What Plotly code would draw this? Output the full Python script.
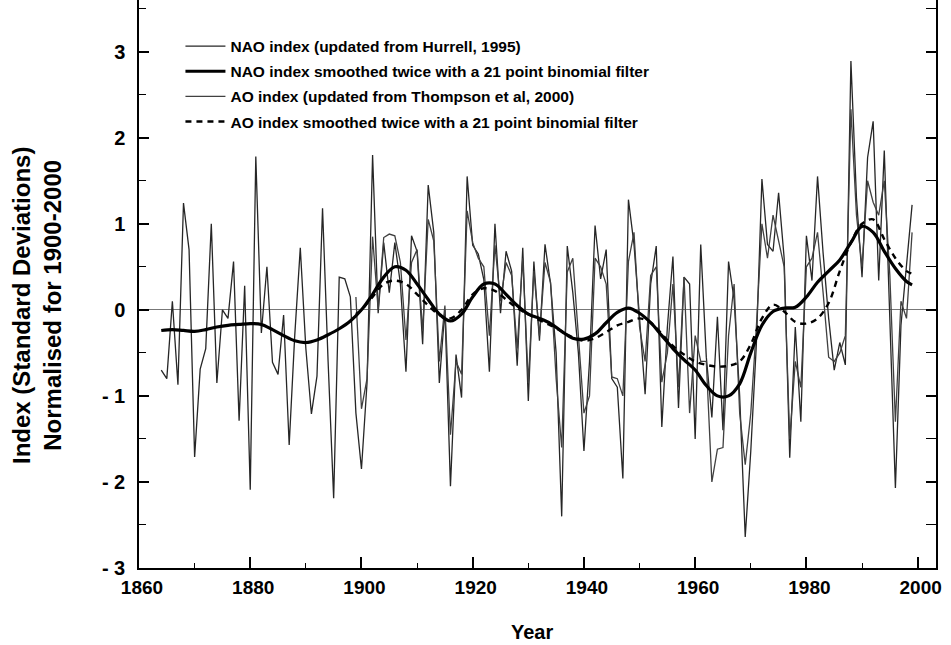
import plotly.graph_objects as go

# ---------------- data ----------------
nao_years = list(range(1864, 2000))
nao_values = [
    -0.70, -0.80, 0.10, -0.87, 1.24, 0.70, -1.71, -0.69, -0.45, 1.00,
    -0.85, 0.00, -0.10, 0.56, -1.29, 0.28, -2.09, 1.78, -0.27, 0.50,
    -0.61, -0.75, -0.06, -1.57, -0.30, 0.72, -0.45, -1.21, -0.77, 1.18,
    -0.60, -2.19, 0.38, 0.36, 0.15, -1.20, -1.85, -0.85, 1.80, -0.04,
    0.78, 0.20, 0.78, 0.30, -0.72, 0.86, 0.68, -0.40, 1.45, 0.90,
    -0.85, 0.00, -2.05, -0.52, -1.02, 1.55, 0.75, 0.65, 0.35, -0.72,
    1.00, -0.04, 0.68, 0.45, -0.65, 0.72, -1.06, 0.56, -0.36, 0.76,
    0.30, -0.50, -2.40, 0.74, 0.20, -0.50, -1.64, -0.60, 0.98, 0.36,
    0.70, -0.80, -0.90, -1.96, 1.28, 0.76, -0.10, -0.98, 0.30, 0.74,
    -1.36, -0.20, 0.62, -1.14, 0.38, 0.30, -1.50, 0.76, -0.55, -1.25,
    -0.08, -1.40, 0.56, 0.12, -1.00, -2.64, -1.64, -0.40, 1.52, 0.76,
    0.68, 1.36, 0.60, -1.72, -0.20, -1.30, 0.86, 0.34, 1.55, 0.66,
    -0.10, -0.70, -0.38, -0.64, 2.89, 1.30, 0.38, 1.77, 2.19, 0.34,
    1.85, -0.10, -2.07, -0.18, 0.50, 1.22,
]

ao_years = list(range(1899, 2000))
ao_values = [
    0.15, -1.15, -0.80, 0.85, 0.00, 0.84, 0.88, 0.86, 0.55, -0.35,
    0.55, 0.70, -0.25, 1.05, 0.80, -0.60, 0.05, -1.45, -0.60, -0.75,
    1.15, 0.78, 0.60, 0.50, -0.30, 0.75, 0.10, 0.55, 0.40, -0.45,
    0.60, -0.85, 0.45, -0.30, 0.55, 0.32, -0.80, -1.60, 0.44, 0.60,
    -0.30, -1.20, -1.00, 0.60, 0.50, 0.30, -0.78, -0.80, -1.00, 0.56,
    0.90, -0.20, -0.60, 0.40, 0.50, -0.84, -0.50, 0.30, -0.90, 0.38,
    -1.20, -0.30, -0.60, -0.60, -2.00, -1.62, -1.60, -0.30, 0.30, -1.20,
    -1.80, -1.20, -0.20, 1.00, 0.60, 1.10, 0.80, 0.50, -1.50, -0.60,
    -0.90, 0.50, 0.60, 0.90, 0.20, -0.55, -0.60, -0.50, -0.30, 2.33,
    1.10, 0.50, 1.50, 1.25, 1.10, 1.50, 0.40, -1.30, 0.10, -0.10,
    0.90,
]

nao_smooth_years = [1864, 1866, 1868, 1870, 1872, 1874, 1876, 1878, 1880, 1882,
                    1884, 1886, 1888, 1890, 1892, 1894, 1896, 1898, 1900, 1902,
                    1904, 1906, 1908, 1910, 1912, 1914, 1916, 1918, 1920, 1922,
                    1924, 1926, 1928, 1930, 1932, 1934, 1936, 1938, 1940, 1942,
                    1944, 1946, 1948, 1950, 1952, 1954, 1956, 1958, 1960, 1962,
                    1964, 1966, 1968, 1970, 1972, 1974, 1976, 1978, 1980, 1982,
                    1984, 1986, 1988, 1990, 1992, 1994, 1996, 1998, 1999]
nao_smooth_values = [-0.24, -0.23, -0.24, -0.25, -0.23, -0.20, -0.18, -0.17, -0.16, -0.17,
                     -0.23, -0.30, -0.36, -0.38, -0.35, -0.29, -0.22, -0.13, 0.00, 0.18,
                     0.38, 0.50, 0.46, 0.30, 0.12, -0.05, -0.13, -0.05, 0.15, 0.30,
                     0.30, 0.18, 0.05, -0.05, -0.10, -0.16, -0.25, -0.33, -0.34, -0.28,
                     -0.15, -0.03, 0.02, -0.04, -0.15, -0.30, -0.45, -0.58, -0.70, -0.88,
                     -1.00, -1.00, -0.86, -0.50, -0.18, -0.02, 0.02, 0.03, 0.15, 0.32,
                     0.45, 0.58, 0.78, 0.97, 0.90, 0.68, 0.48, 0.33, 0.29]

ao_smooth_years = [1899, 1900, 1902, 1904, 1906, 1908, 1910, 1912, 1914, 1916,
                   1918, 1920, 1922, 1924, 1926, 1928, 1930, 1932, 1934, 1936,
                   1938, 1940, 1942, 1944, 1946, 1948, 1950, 1952, 1954, 1956,
                   1958, 1960, 1962, 1964, 1966, 1968, 1970, 1972, 1974, 1976,
                   1978, 1980, 1982, 1984, 1986, 1988, 1990, 1992, 1994, 1996,
                   1998, 1999]
ao_smooth_values = [-0.05, 0.00, 0.15, 0.30, 0.34, 0.30, 0.18, 0.05, -0.06, -0.10,
                    0.00, 0.18, 0.25, 0.22, 0.12, 0.02, -0.05, -0.12, -0.18, -0.25,
                    -0.32, -0.36, -0.33, -0.26, -0.18, -0.14, -0.10, -0.15, -0.28, -0.42,
                    -0.52, -0.60, -0.64, -0.66, -0.65, -0.60, -0.40, -0.10, 0.06, -0.02,
                    -0.14, -0.16, -0.10, 0.08, 0.45, 0.78, 1.00, 1.05, 0.82, 0.60,
                    0.45, 0.42]

y_tickvals = [-3, -2, -1, 0, 1, 2, 3]
y_ticktext = ["- 3", "- 2", "- 1", "0", "1", "2", "3"]
x_tickvals = [1860, 1880, 1900, 1920, 1940, 1960, 1980, 2000]

legend_labels = [
    "NAO index (updated from Hurrell, 1995)",
    "NAO index smoothed twice with a 21 point binomial filter",
    "AO index (updated from Thompson et al, 2000)",
    "AO index smoothed twice with a 21 point binomial filter",
]

FONT = "Liberation Sans, Arial, sans-serif"

fig = go.Figure()
fig.add_trace(go.Scatter(x=nao_years, y=nao_values, mode="lines", name=legend_labels[0],
                         line=dict(color="#262626", width=1.3), legendrank=1, legendgroup="a"))
fig.add_trace(go.Scatter(x=ao_years, y=ao_values, mode="lines", name=legend_labels[2],
                         line=dict(color="#404040", width=1.3), legendrank=3, legendgroup="c"))
fig.add_trace(go.Scatter(x=nao_smooth_years, y=nao_smooth_values, mode="lines",
                         name=legend_labels[1], line=dict(color="#000000", width=3.2, shape="spline"),
                         legendrank=2, legendgroup="b"))
fig.add_trace(go.Scatter(x=ao_smooth_years, y=ao_smooth_values, mode="lines",
                         name=legend_labels[3],
                         line=dict(color="#000000", width=2.4, dash="6px,5px", shape="spline"),
                         legendrank=4, legendgroup="d"))

fig.update_layout(
    width=951, height=645,
    margin=dict(l=139, r=15, t=0, b=77),
    paper_bgcolor="white", plot_bgcolor="white",
    font=dict(family=FONT, color="black"),
    showlegend=True,
    legend=dict(x=0.052, y=0.948, xanchor="left", yanchor="top",
                bgcolor="rgba(0,0,0,0)", itemwidth=40, tracegroupgap=2,
                font=dict(family=FONT, size=15.5, color="black", weight="bold")),
    xaxis=dict(range=[1860, 2003.3], tickmode="array", tickvals=x_tickvals,
               ticks="inside", ticklen=11, tickwidth=1.5, tickcolor="black",
               showline=True, linecolor="black", linewidth=1.5,
               showgrid=False, zeroline=False, ticklabelstandoff=1, ticklabelshift=3,
               tickfont=dict(family=FONT, size=19, weight="bold"),
               minor=dict(tickmode="array", tickvals=[1870, 1890, 1910, 1930, 1950, 1970, 1990],
                          ticks="inside", ticklen=5, tickwidth=1.2, tickcolor="black")),
    yaxis=dict(range=[-3, 3.6], tickmode="array", tickvals=y_tickvals, ticktext=y_ticktext,
               ticks="inside", ticklen=10, tickwidth=1.5, tickcolor="black",
               showline=True, linecolor="black", linewidth=1.5,
               showgrid=False, zeroline=True, zerolinecolor="#777777", zerolinewidth=1,
               ticklabelstandoff=8,
               tickfont=dict(family=FONT, size=20, weight="bold"),
               minor=dict(dtick=0.5, ticks="inside", ticklen=7, tickwidth=1.2, tickcolor="black")),
    yaxis2=dict(range=[-3, 3.6], overlaying="y", side="right", anchor="x",
                tickmode="array", tickvals=y_tickvals, showticklabels=False,
                ticks="inside", ticklen=10, tickwidth=1.5, tickcolor="black",
                showline=True, linecolor="black", linewidth=1.5, showgrid=False, zeroline=False,
                minor=dict(dtick=0.5, ticks="inside", ticklen=10, tickwidth=1.2, tickcolor="black")),
    annotations=[
        dict(text="<b>Year</b>", x=0.493, y=-0.113, xref="paper", yref="paper",
             xanchor="center", yanchor="middle", showarrow=False,
             font=dict(family=FONT, size=20, color="black")),
        dict(text="<b>Index (Standard Deviations)<br>Normalised for 1900-2000</b>",
             x=-0.128, y=0.463, xref="paper", yref="paper", textangle=-90,
             xanchor="center", yanchor="middle", showarrow=False,
             font=dict(family=FONT, size=24, color="black")),
    ],
)
fig.add_trace(go.Scatter(x=[], y=[], yaxis="y2", showlegend=False, hoverinfo="skip"))

fig.write_html("out.html")
